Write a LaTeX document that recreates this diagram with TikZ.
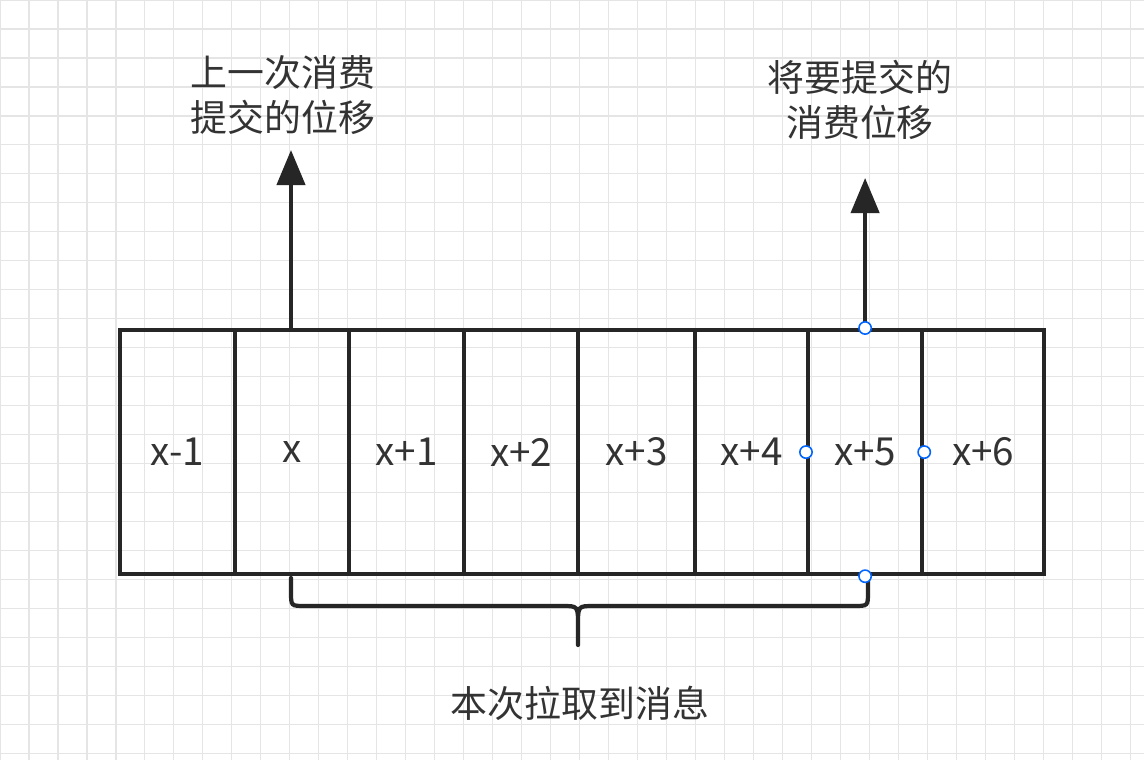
\documentclass[tikz,border=0pt]{standalone}
\usepackage{fontspec}
\setmainfont{Noto Sans CJK SC}
\usetikzlibrary{arrows.meta}
\begin{document}
\begin{tikzpicture}[x=0.02cm,y=-0.02cm,
  cell/.style={draw=black!85,line width=2.4pt,minimum width=114*0.02cm,minimum height=244*0.02cm,anchor=north west,inner sep=0pt,font=\fontsize{22}{26}\selectfont,text=black!80},
  arr/.style={line width=2.4pt,draw=black!85,-{Triangle[length=20pt,width=16pt]}},
  lab/.style={align=center,font=\fontsize{21}{26}\selectfont,text=black!80},
  handle/.style={circle,draw=blue!60!cyan,fill=white,line width=0.9pt,minimum size=7pt,inner sep=0pt}]
\useasboundingbox (0,0) rectangle (1144,760);
\fill[white] (0,0) rectangle (1144,760);
\draw[black!10,line width=0.6pt] (0,0) grid[step=0.58cm] (1144,760);
\foreach \n/\x/\w/\t in {a/118/115/x-1,b/233/114/x,c/347/115/x+1,d/462/114/x+2,e/576/117/x+3,f/693/113/x+4,g/806/114/x+5,h/920/122/x+6}
  \node[cell,minimum width=\w*0.02cm] (\n) at (\x,328) {\t};
\coordinate (t1) at (291,150);
\draw[arr] (291,328) -- (t1);
\node[lab] (l1) at (283,95) {上一次消费\\提交的位移};
\coordinate (t2) at (862,178);
\draw[arr] (g.north) -- (g.north |- t2);
\node[lab] (l2) at (860,100) {将要提交的\\消费位移};
\draw[black!85,line width=2.4pt,line cap=round]
  (291,578) -- (291,592) .. controls (291,606) .. (305,606) -- (562,606)
  .. controls (578,606) .. (578,625) -- (578,645)
  (578,625) .. controls (578,606) .. (594,606) -- (854,606)
  .. controls (868,606) .. (868,592) -- (868,578);
\node[lab] (l3) at (580,703) {本次拉取到消息};
\node[handle] (h1) at (g.north) {};
\node[handle] (h2) at (g.west) {};
\node[handle] (h3) at (g.east) {};
\node[handle] (h4) at (g.south) {};
\end{tikzpicture}
\end{document}
